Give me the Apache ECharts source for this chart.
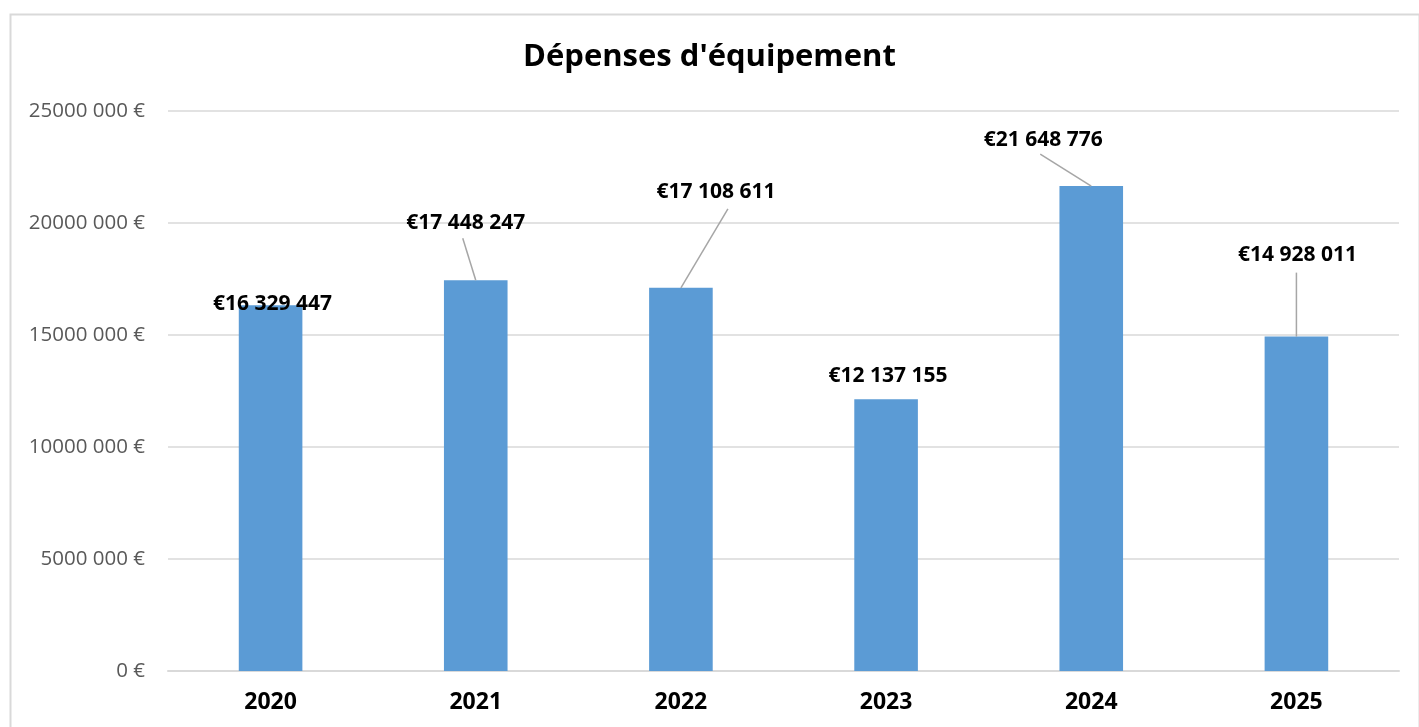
<!DOCTYPE html>
<html>
<head>
<meta charset="utf-8">
<style>
  html, body { margin: 0; padding: 0; background: #fff; }
  #chart { width: 1419px; height: 727px; }
</style>
<script src="https://cdn.jsdelivr.net/npm/echarts@6/dist/echarts.min.js"></script>
</head>
<body>
<div id="chart"></div>
<script>
// données
const years = ['2020', '2021', '2022', '2023', '2024', '2025'];
const spending = [16329447, 17448247, 17108611, 12137155, 21648776, 14928011];
const yTicks = [0, 5000000, 10000000, 15000000, 20000000, 25000000];

// décalage des étiquettes par rapport à leur place par défaut (px)
const labelShift = [
  { dx: 2, dy: 23 },
  { dx: -10, dy: -33 },
  { dx: 35, dy: -71 },
  { dx: 2, dy: 1 },
  { dx: -48, dy: -22 },
  { dx: 1, dy: -57 }
];
// début des traits de rappel, relatif au haut de la barre (px), null = pas de trait
const leaderStart = [null, [-13, -42], [47, -79], null, [-51, -32], [0, -64]];

const FONT = '"Open Sans", "Noto Sans", sans-serif';

function groupAll(v) {
  return String(v).replace(/\B(?=(\d{3})+(?!\d))/g, ' ');
}

function axisEuro(v) {
  if (v === 0) return '0 €';
  const hi = Math.floor(v / 1000);
  const lo = String(v % 1000).padStart(3, '0');
  return hi + ' ' + lo + ' €';
}

const chart = echarts.init(document.getElementById('chart'));

chart.setOption({
  animation: false,
  textStyle: { fontFamily: FONT },
  title: {
    text: "Dépenses d'équipement",
    left: 'center',
    top: 37,
    textStyle: { fontFamily: FONT, fontSize: 31, fontWeight: 'bold', color: '#000' }
  },
  graphic: [{
    type: 'rect',
    left: 8,
    top: 12,
    shape: { width: 1409, height: 740 },
    style: { fill: 'none', stroke: '#d9d9d9', lineWidth: 2 },
    silent: true
  }],
  grid: { left: 168, right: 20, top: 111, bottom: 56 },
  xAxis: {
    type: 'category',
    data: years,
    axisLine: { lineStyle: { color: '#d9d9d9', width: 2 } },
    axisTick: { show: false },
    axisLabel: { fontFamily: FONT, fontSize: 23, fontWeight: 'bold', color: '#000', margin: 20 }
  },
  yAxis: {
    type: 'value',
    min: yTicks[0],
    max: yTicks[yTicks.length - 1],
    interval: yTicks[1] - yTicks[0],
    axisLine: { show: false },
    axisTick: { show: false },
    splitLine: { lineStyle: { color: '#d9d9d9', width: 1.5 } },
    axisLabel: { fontFamily: FONT, fontSize: 20.5, color: '#595959', margin: 23, formatter: axisEuro }
  },
  series: [{
    type: 'bar',
    barWidth: '31%',
    itemStyle: { color: '#5b9bd5' },
    data: spending,
    z: 2,
    label: {
      show: true,
      position: 'top',
      distance: 14,
      fontFamily: FONT,
      fontSize: 21,
      fontWeight: 'bold',
      color: '#000',
      formatter: p => '€' + groupAll(p.value)
    },
    labelLayout: p => ({ dx: labelShift[p.dataIndex].dx, dy: labelShift[p.dataIndex].dy })
  }, {
    // traits de rappel des étiquettes
    type: 'custom',
    silent: true,
    z: 3,
    data: spending.map((v, i) => [i, v]),
    renderItem: (params, api) => {
      const s = leaderStart[params.dataIndex];
      if (!s) return null;
      const top = api.coord([api.value(0), api.value(1)]);
      return {
        type: 'line',
        shape: { x1: top[0] + s[0], y1: top[1] + s[1], x2: top[0], y2: top[1] },
        style: { stroke: '#a6a6a6', lineWidth: 1.5 }
      };
    }
  }]
});
</script>
</body>
</html>
